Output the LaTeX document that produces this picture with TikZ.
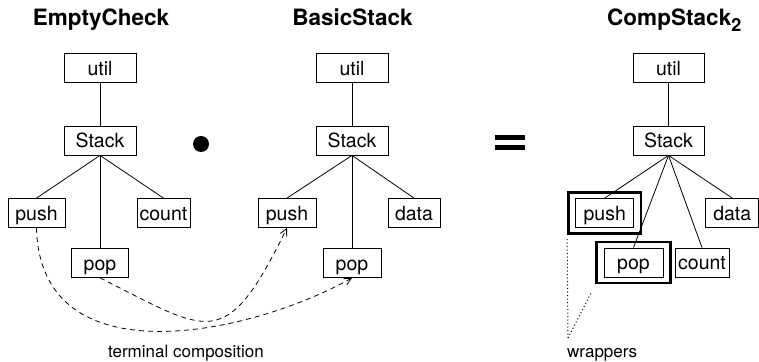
\documentclass[tikz,border=0pt]{standalone}
\usepackage{fontspec}
\setmainfont{TeX Gyre Heros}
\usetikzlibrary{arrows.meta,fit,positioning}
\newcommand{\modfont}{\fontsize{19.5}{20}\selectfont}
\newcommand{\titlefont}{\fontsize{22.5}{24}\selectfont\bfseries}
\newcommand{\lblfont}{\fontsize{17}{18}\selectfont}

\begin{document}
\begin{tikzpicture}[
  x=1pt, y=1pt,
  level distance=72.5pt,
  level 2/.style={sibling distance=63.5pt},
  parent anchor=south, child anchor=north,
  edge from parent/.style={draw, line width=0.8pt},
  module/.style={draw, line width=0.8pt, minimum width=#1, minimum height=29pt,
    inner sep=0pt, text height=17pt, text depth=2pt, font=\modfont},
  module/.default=72pt,
  wrapper/.style={draw, line width=2.5pt, inner xsep=7pt, inner ysep=5.75pt},
  title/.style={anchor=base, inner sep=0pt, font=\titlefont},
  lbl/.style={anchor=base, inner sep=0pt, font=\lblfont},
  compose/.style={dash pattern=on 5pt off 4pt, line width=0.8pt,
    -{Straight Barb[length=7pt,width=7pt]}},
  dots/.style={line width=1pt, dash pattern=on 1pt off 2.5pt}
]
\useasboundingbox (0,0) rectangle (759,361);

% titles
\node[title] (tempty) at (101,335) {EmptyCheck};
\node[title] (tbasic) at (352.5,335) {BasicStack};
\node[title, anchor=base west] (tcomp) at (607,335)
  {CompStack\raisebox{-6pt}{\fontsize{18}{18}\selectfont 2}};

% EmptyCheck
\node[module] (eutil) at (100,293) {util}
  child {node[module] (estack) {Stack}
    child {node[module=57pt] (epush) {push}}
    child {node[module=57pt, yshift=-50pt] (epop) {pop}}
    child {node[module=53pt] (ecount) {count}}
  };

% composition operator
\node[circle, fill, minimum size=16pt, inner sep=0pt] (op) at (201,217) {};

% BasicStack
\node[module] (butil) at (352,293) {util}
  child {node[module] (bstack) {Stack}
    child {node[module=58pt, xshift=-1.5pt] (bpush) {push}}
    child {node[module=58pt, yshift=-50pt] (bpop) {pop}}
    child {node[module=52pt, xshift=-1.5pt] (bdata) {data}}
  };

% equals
\fill (495,221) rectangle (525,226);
\fill (495,211) rectangle (525,216);

% CompStack_2
\begin{scope}[level 2/.style={sibling distance=42.5pt}]
\node[module=71pt] (cutil) at (668.5,293) {util}
  child {node[module=71pt] (cstack) {Stack}
    child {node[module=58pt] (cpush) {push}}
    child {node[module=59pt, xshift=-13.75pt, yshift=-49.5pt] (cpop) {pop}}
    child {node[module=54pt, xshift=12.25pt, yshift=-49.5pt] (ccount) {count}}
    child {node[module=53pt] (cdata) {data}}
  };
\end{scope}
\node[wrapper, fit=(cpush)] (wpush) {};
\node[wrapper, fit=(cpop)] (wpop) {};

% terminal composition
\draw[compose] (epush.south) .. controls (40,-19) and (250,26) .. (bpop.south);
\draw[compose] (epop.south) .. controls (210,28) and (225,7) .. (bpush.south);
\node[lbl] (lterm) at (186,4) {terminal composition};

% wrappers
\coordinate (wtip) at (568,23);
\draw[dots, shorten >=3pt] (wtip) -- (wpush.south west);
\draw[dots, shorten >=9pt] (wtip) -- (wpop.south west);
\node[lbl, anchor=base west] (lwrap) at (567,4) {wrappers};
\end{tikzpicture}
\end{document}
